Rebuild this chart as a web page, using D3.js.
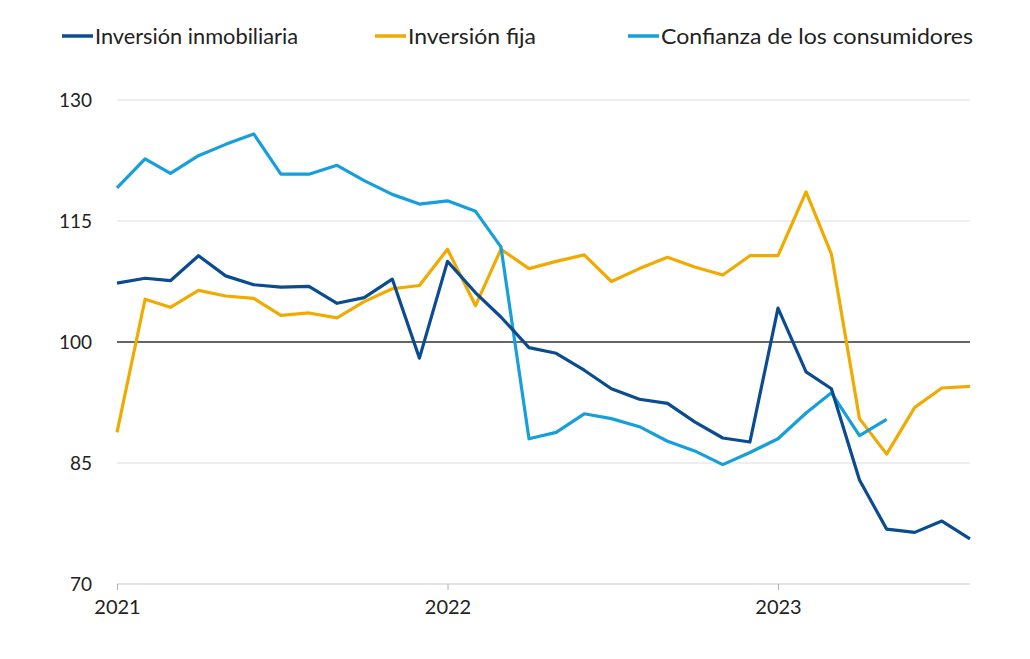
<!DOCTYPE html>
<html>
<head>
	<script src="https://d3js.org/d3.v7.min.js"></script>
	<style>
		body { margin: 0; background: #fff; }
		text { font-family: Lato, "Open Sans", sans-serif; fill: #222; }
	</style>
</head>
<body>
	<div class="chart"></div>
	<script>
		// monthly series, Jan 2021 - Aug 2023
		var start = new Date(2021, 0, 1);
		var inmobiliaria = [107.3, 107.9, 107.6, 110.7, 108.2, 107.1, 106.8, 106.9, 104.8, 105.5, 107.8, 98.0,
			110.0, 106.1, 103.1, 99.3, 98.6, 96.5, 94.2, 92.9, 92.4, 90.1, 88.1, 87.6,
			104.2, 96.3, 94.2, 82.9, 76.8, 76.4, 77.8, 75.6];
		var fija = [88.8, 105.3, 104.3, 106.4, 105.7, 105.4, 103.3, 103.6, 103.0, 105.0, 106.6, 107.0,
			111.5, 104.5, 111.5, 109.1, 110.0, 110.8, 107.5, 109.1, 110.5, 109.3, 108.3, 110.7,
			110.7, 118.6, 110.9, 90.5, 86.1, 91.9, 94.3, 94.5];
		var confianza = [119.1, 122.7, 120.9, 123.1, 124.5, 125.8, 120.8, 120.8, 121.9, 120.0, 118.3, 117.1,
			117.5, 116.2, 111.8, 88.0, 88.8, 91.1, 90.5, 89.5, 87.7, 86.5, 84.8, 86.3,
			88.0, 91.2, 93.7, 88.4, 90.4, null, null, null];
		var seriesNames = ["Inversión inmobiliaria", "Inversión fija", "Confianza de los consumidores"];
		var colors = ["#0b4c91", "#f0aa00", "#169fda"];
		var yTicks = [70, 85, 100, 115, 130];
		var xTicks = [new Date(2021, 0, 1), new Date(2022, 0, 1), new Date(2023, 0, 1)];

		var w = 1030, h = 659;
		var svg = d3.select(".chart").append("svg")
			.attr("width", w)
			.attr("height", h);

		var x = d3.scaleTime()
			.domain([new Date(2021, 0, 1), new Date(2023, 0, 1)])
			.range([117, 778]);
		var xEnd = x(d3.timeMonth.offset(start, 31));
		var y = d3.scaleLinear().domain([70, 130]).range([584, 100]);

		// grid
		svg.append("g").selectAll("line")
			.data(yTicks.filter(function(d) { return d != 70; }))
			.enter().append("line")
			.attr("x1", 117).attr("x2", xEnd)
			.attr("y1", function(d) { return y(d); })
			.attr("y2", function(d) { return y(d); })
			.attr("stroke", function(d) { return d == 100 ? "#333" : "#dedede"; })
			.attr("stroke-width", function(d) { return d == 100 ? 1.3 : 1.2; });

		svg.append("g").selectAll("text")
			.data(yTicks)
			.enter().append("text")
			.attr("x", 92)
			.attr("y", function(d) { return y(d) + 7; })
			.attr("text-anchor", "end")
			.style("font-size", "19px")
			.text(function(d) { return d; });

		// x axis
		var xAxis = svg.append("g")
			.attr("transform", "translate(0,584)")
			.call(d3.axisBottom(x).tickValues(xTicks).tickSize(6).tickPadding(10)
				.tickFormat(d3.timeFormat("%Y")));
		xAxis.select(".domain").attr("d", "M117,0H" + xEnd).attr("stroke", "#c8c8c8").attr("stroke-width", 1.2);
		xAxis.selectAll(".tick line").attr("stroke", "#b0b0b0");
		xAxis.selectAll(".tick text").style("font-size", "20px").style("font-family", "Lato, sans-serif").attr("fill", "#222");

		// lines
		var all = [inmobiliaria, fija, confianza];
		var line = d3.line()
			.defined(function(d) { return d != null; })
			.x(function(d, i) { return x(d3.timeMonth.offset(start, i)); })
			.y(function(d) { return y(d); });
		[1, 2, 0].forEach(function(k) {
			svg.append("path")
				.attr("d", line(all[k]))
				.attr("fill", "none")
				.attr("stroke", colors[k])
				.attr("stroke-width", 3.2)
				.attr("stroke-linejoin", "round");
		});

		// legend
		var legendX = [62, 375, 628];
		var legendW = [203, 128, 312];
		var lg = svg.append("g").selectAll("g")
			.data(seriesNames)
			.enter().append("g")
			.attr("transform", function(d, i) { return "translate(" + legendX[i] + ",36)"; });
		lg.append("line")
			.attr("x1", 0).attr("x2", 31)
			.attr("stroke", function(d, i) { return colors[i]; })
			.attr("stroke-width", 3.5);
		lg.append("text")
			.attr("x", 33).attr("y", 8)
			.attr("textLength", function(d, i) { return legendW[i]; })
			.attr("lengthAdjust", "spacingAndGlyphs")
			.style("font-size", "22px")
			.text(function(d) { return d; });
	</script>
</body>
</html>
